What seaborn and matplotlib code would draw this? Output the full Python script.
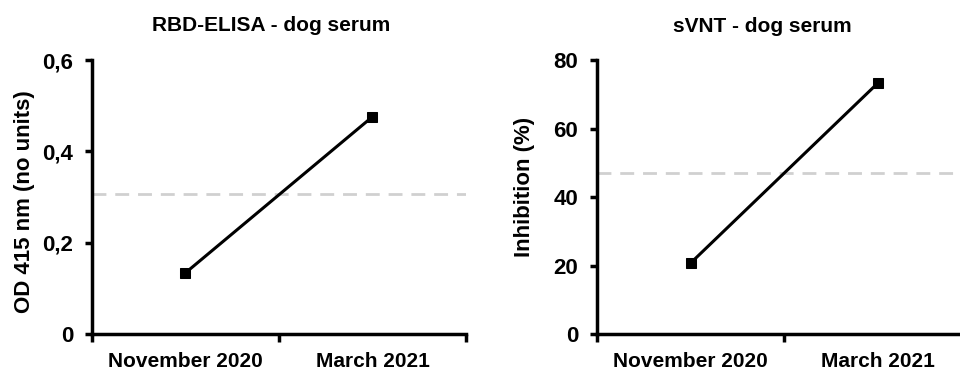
import matplotlib
matplotlib.use("Agg")
import matplotlib.pyplot as plt
from matplotlib.ticker import FuncFormatter
import pandas as pd
import seaborn as sns

# data
dates = ["November 2020", "March 2021"]
elisa_od = [0.134, 0.476]
elisa_cutoff = 0.307
svnt_inhibition = [20.7, 73.2]
svnt_cutoff = 46.9

sns.set_style("ticks")
plt.rcParams['font.family'] = ['Liberation Sans', 'DejaVu Sans']
plt.rcParams['font.weight'] = 'bold'
for k in ["text.color", "axes.labelcolor", "xtick.color", "ytick.color", "axes.edgecolor"]:
    plt.rcParams[k] = "black"

fig = plt.figure(figsize=(9.6, 3.71), dpi=100)
ax1 = fig.add_axes([0.0958, 0.0997, 0.3896, 0.7383])
ax2 = fig.add_axes([0.6219, 0.0997, 0.3896, 0.7383])


def draw(ax, values, cutoff, ylabel, ymax, yticks, fmt):
    df = pd.DataFrame({"x": range(len(dates)), "y": values})
    ax.axhline(cutoff, color="#d0d0d0", lw=2, ls=(0, (5, 3.2)), zorder=1)
    sns.lineplot(data=df, x="x", y="y", ax=ax, color="black", lw=2.2,
                 marker="s", markersize=7.5, markeredgecolor="black", zorder=3)
    ax.set_xlim(-0.5, 1.5)
    ax.set_ylim(0, ymax)
    ax.set_yticks(yticks)
    ax.yaxis.set_major_formatter(FuncFormatter(fmt))
    # ticks sit on the category boundaries, labels in the middle
    ax.set_xticks([-0.5, 0.5, 1.5])
    ax.set_xticklabels([])
    ax.set_xticks([0, 1], minor=True)
    ax.set_xticklabels(dates, minor=True)
    ax.tick_params(axis="x", which="minor", length=0, pad=13, labelsize=15)
    ax.tick_params(axis="x", which="major", direction="out", length=6, width=2.5)
    ax.tick_params(axis="y", length=5, width=2.5, labelsize=16, pad=8.5)
    for s in ["left", "bottom"]:
        ax.spines[s].set_linewidth(2.5)
    sns.despine(ax=ax)
    ax.set_xlabel("")
    ax.set_ylabel(ylabel, fontsize=16, fontweight="bold")
    for lab in ax.get_xticklabels(minor=True) + ax.get_yticklabels():
        lab.set_fontweight("bold")
    return ax


draw(ax1, elisa_od, elisa_cutoff, "OD 415 nm (no units)",
     0.6, [0, 0.2, 0.4, 0.6],
     lambda v, p: "0" if v == 0 else f"{v:.1f}".replace(".", ","))
draw(ax2, svnt_inhibition, svnt_cutoff, "Inhibition (%)",
     80, [0, 20, 40, 60, 80], lambda v, p: f"{v:.0f}")

ax1.yaxis.set_label_coords(-0.152, 0.485)
ax2.yaxis.set_label_coords(-0.166, 0.537)
ax1.text(0.48, 1.128, "RBD-ELISA - dog serum", transform=ax1.transAxes,
         ha="center", va="center", fontsize=15, fontweight="bold")
ax2.text(0.441, 1.121, "sVNT - dog serum", transform=ax2.transAxes,
         ha="center", va="center", fontsize=15, fontweight="bold")

fig.savefig("out.png", dpi=100)
